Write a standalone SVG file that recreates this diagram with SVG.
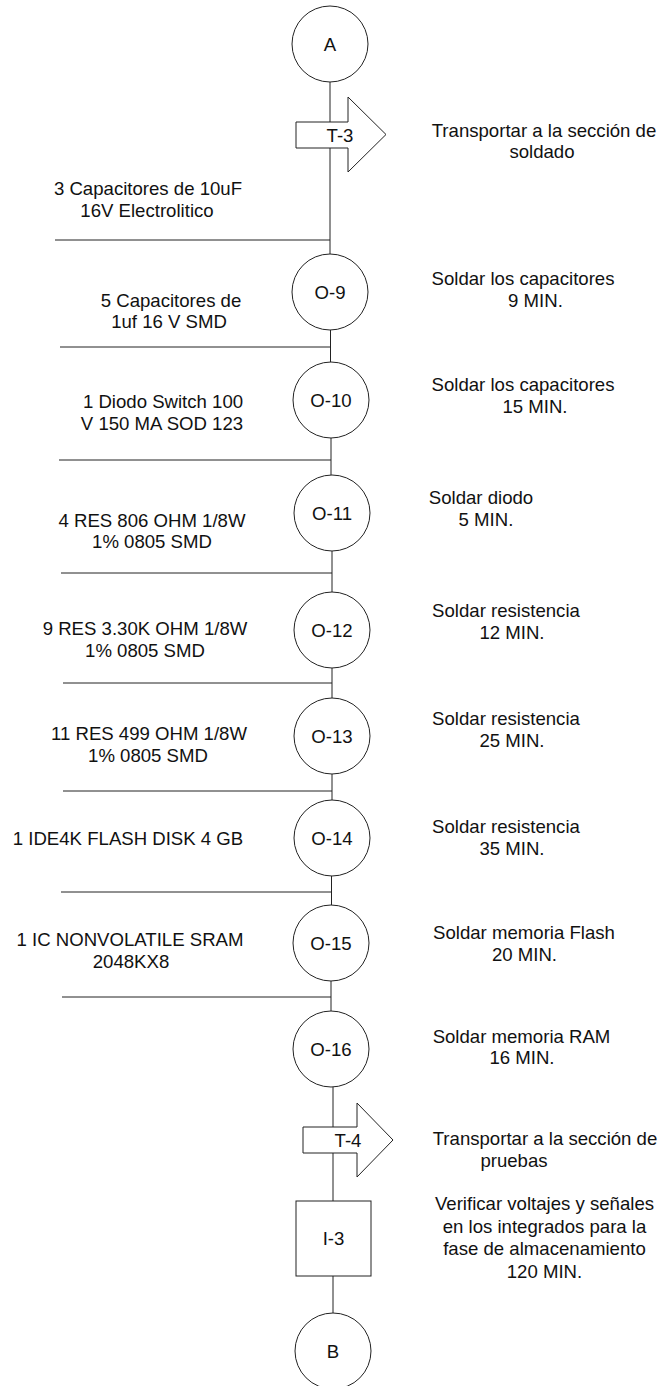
<svg xmlns="http://www.w3.org/2000/svg" width="663" height="1386" viewBox="0 0 663 1386">
<style>
.s{fill:#fff;stroke:#222;stroke-width:1}
.c line{stroke:#222;stroke-width:1}
text{font-family:"Liberation Sans",Arial,sans-serif;font-size:18.6px;fill:#111}
.m{text-anchor:middle}
.n{text-anchor:middle;dominant-baseline:central}
</style>
<rect width="663" height="1386" fill="#fff"/>
<g id="connectors" class="c">
<line x1="330" y1="82" x2="330" y2="122"/>
<line x1="330" y1="148" x2="330" y2="254"/>
<line x1="330.5" y1="330" x2="330.5" y2="362"/>
<line x1="331" y1="438" x2="331" y2="475"/>
<line x1="332" y1="551" x2="332" y2="592"/>
<line x1="332" y1="668" x2="332" y2="698"/>
<line x1="332" y1="774" x2="332" y2="800"/>
<line x1="331.5" y1="876" x2="331.5" y2="905"/>
<line x1="331" y1="981" x2="331" y2="1011"/>
<line x1="333" y1="1087" x2="333" y2="1127"/>
<line x1="333" y1="1153" x2="333" y2="1201"/>
<line x1="333" y1="1276" x2="333" y2="1313"/>
<line x1="55" y1="240" x2="330" y2="240"/>
<line x1="60" y1="347" x2="330.5" y2="347"/>
<line x1="59" y1="460" x2="331" y2="460"/>
<line x1="61" y1="573" x2="332" y2="573"/>
<line x1="63" y1="683" x2="332" y2="683"/>
<line x1="63" y1="791" x2="332" y2="791"/>
<line x1="61" y1="892" x2="331.5" y2="892"/>
<line x1="62" y1="997" x2="331" y2="997"/>
</g>
<g id="A"><circle class="s" cx="330" cy="44" r="38"/><text class="n" x="330" y="44">A</text></g>
<g id="T-3"><path class="s" d="M296,122H348V97L386,134.5L348,172V148H296Z"/><text class="n" x="340" y="135">T-3</text>
<text class="m" x="544" y="137">Transportar a la sección de</text><text class="m" x="542" y="158">soldado</text></g>
<g id="mat1"><text class="m" x="148" y="195">3 Capacitores de 10uF</text><text class="m" x="147" y="217">16V Electrolitico</text></g>
<g id="O-9"><circle class="s" cx="330" cy="292" r="38"/><text class="n" x="330" y="292">O-9</text>
<text class="m" x="523" y="285">Soldar los capacitores</text><text class="m" x="535.5" y="307">9 MIN.</text></g>
<g id="mat2"><text class="m" x="171" y="307">5 Capacitores de</text><text class="m" x="169" y="328">1uf 16 V SMD</text></g>
<g id="O-10"><circle class="s" cx="331" cy="400" r="38"/><text class="n" x="331" y="400">O-10</text>
<text class="m" x="523" y="391">Soldar los capacitores</text><text class="m" x="535" y="413">15 MIN.</text></g>
<g id="mat3"><text class="m" x="163" y="408">1 Diodo Switch 100</text><text class="m" x="162" y="430">V 150 MA SOD 123</text></g>
<g id="O-11"><circle class="s" cx="332" cy="513" r="38"/><text class="n" x="332" y="513">O-11</text>
<text class="m" x="481" y="504">Soldar diodo</text><text class="m" x="486" y="526">5 MIN.</text></g>
<g id="mat4"><text class="m" x="152" y="527">4 RES 806 OHM 1/8W</text><text class="m" x="152" y="548">1% 0805 SMD</text></g>
<g id="O-12"><circle class="s" cx="332" cy="630" r="38"/><text class="n" x="332" y="630">O-12</text>
<text class="m" x="506" y="617">Soldar resistencia</text><text class="m" x="512" y="639">12 MIN.</text></g>
<g id="mat5"><text class="m" x="145" y="635">9 RES 3.30K OHM 1/8W</text><text class="m" x="145" y="657">1% 0805 SMD</text></g>
<g id="O-13"><circle class="s" cx="332" cy="736" r="38"/><text class="n" x="332" y="736">O-13</text>
<text class="m" x="506" y="725">Soldar resistencia</text><text class="m" x="512" y="747">25 MIN.</text></g>
<g id="mat6"><text class="m" x="149" y="740">11 RES 499 OHM 1/8W</text><text class="m" x="148" y="762">1% 0805 SMD</text></g>
<g id="O-14"><circle class="s" cx="332" cy="838" r="38"/><text class="n" x="332" y="838">O-14</text>
<text class="m" x="506" y="833">Soldar resistencia</text><text class="m" x="512" y="855">35 MIN.</text></g>
<g id="mat7"><text class="m" x="128" y="845">1 IDE4K FLASH DISK 4 GB</text></g>
<g id="O-15"><circle class="s" cx="331" cy="943" r="38"/><text class="n" x="331" y="943">O-15</text>
<text class="m" x="524" y="939">Soldar memoria Flash</text><text class="m" x="524.5" y="961">20 MIN.</text></g>
<g id="mat8"><text class="m" x="130" y="946">1 IC NONVOLATILE SRAM</text><text class="m" x="131" y="968">2048KX8</text></g>
<g id="O-16"><circle class="s" cx="331" cy="1049" r="38"/><text class="n" x="331" y="1049">O-16</text>
<text class="m" x="521.5" y="1043">Soldar memoria RAM</text><text class="m" x="522" y="1064">16 MIN.</text></g>
<g id="T-4"><path class="s" d="M303,1127H357V1103L393,1140L357,1177V1153H303Z"/><text class="n" x="348" y="1140">T-4</text>
<text class="m" x="545" y="1145">Transportar a la sección de</text><text class="m" x="514" y="1167">pruebas</text></g>
<g id="I-3"><rect class="s" x="296" y="1201" width="75" height="75"/><text class="n" x="333.5" y="1238">I-3</text>
<text class="m" x="544.5" y="1210">Verificar voltajes y señales</text><text class="m" x="544.5" y="1233">en los integrados para la</text><text class="m" x="544.5" y="1255">fase de almacenamiento</text><text class="m" x="544.5" y="1278">120 MIN.</text></g>
<g id="B"><circle class="s" cx="333" cy="1351" r="38"/><text class="n" x="333" y="1351">B</text></g>
</svg>
